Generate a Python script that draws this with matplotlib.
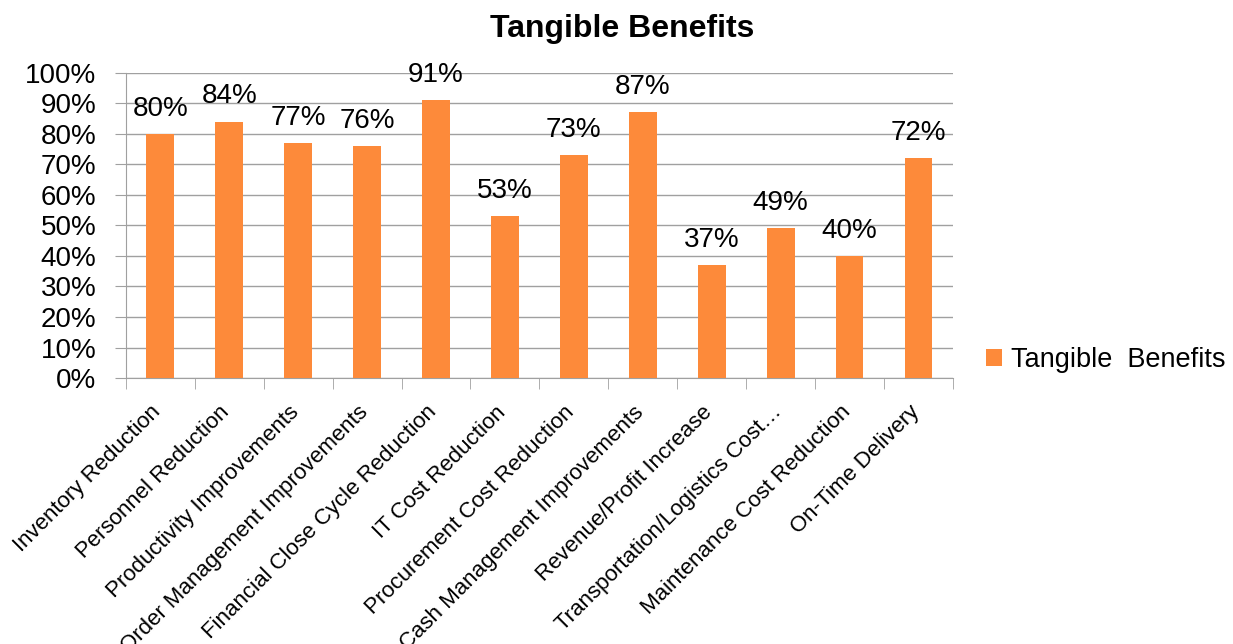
import numpy as np
import matplotlib.pyplot as plt
import matplotlib.transforms as mtransforms
from matplotlib.ticker import PercentFormatter

plt.rcParams['font.family'] = ['Liberation Sans', 'DejaVu Sans']

# Данные диаграммы
categories = ['Inventory Reduction', 'Personnel Reduction', 'Productivity Improvements',
              'Order Management Improvements', 'Financial Close Cycle Reduction',
              'IT Cost Reduction', 'Procurement Cost Reduction', 'Cash Management Improvements',
              'Revenue/Profit Increase', 'Transportation/Logistics Cost…',
              'Maintenance Cost Reduction', 'On-Time Delivery']
values = [80, 84, 77, 76, 91, 53, 73, 87, 37, 49, 40, 72]
series_name = 'Tangible  Benefits'

fig = plt.figure(figsize=(12.33, 6.44), dpi=100)
ax = fig.add_axes([0.102, 0.413, 0.671, 0.474])

x = np.arange(len(categories))
ax.bar(x, values, width=0.4, color='#FD8A3A', label=series_name, zorder=3)

for xi, v in zip(x, values):
    ax.text(xi, v + 4, f'{v}%', ha='center', va='bottom', fontsize=20)

ax.set_xlim(-0.5, len(categories) - 0.5)
ax.set_ylim(0, 100)
ax.set_yticks(np.arange(0, 101, 10))
ax.yaxis.set_major_formatter(PercentFormatter(decimals=0))
ax.tick_params(axis='y', labelsize=20, length=8, color='#a0a0a0', pad=13)
ax.grid(axis='y', color='#a0a0a0', linewidth=1, zorder=0)

ax.set_xticks(x)
ax.set_xticklabels(categories, rotation=45, ha='right', rotation_mode='anchor', fontsize=16)
ax.tick_params(axis='x', which='major', length=0, pad=12)
ax.set_xticks(np.arange(-0.5, len(categories), 1), minor=True)
ax.tick_params(axis='x', which='minor', length=8, color='#a0a0a0')
# сдвиг подписей категорий чуть влево и вниз
shift = mtransforms.ScaledTranslation(-0.1, -0.07, fig.dpi_scale_trans)
for lbl in ax.get_xticklabels():
    lbl.set_transform(lbl.get_transform() + shift)

for side in ['top', 'right']:
    ax.spines[side].set_visible(False)
for side in ['left', 'bottom']:
    ax.spines[side].set_color('#a0a0a0')

fig.text(0.505, 0.955, 'Tangible Benefits', ha='center', va='center', fontsize=23, fontweight='bold')

ax.legend(loc='center left', bbox_to_anchor=(1.01, 0.06), frameon=False, fontsize=19.5,
          handlelength=0.6, handleheight=0.6, handletextpad=0.35)

fig.savefig('out.png', dpi=100)
